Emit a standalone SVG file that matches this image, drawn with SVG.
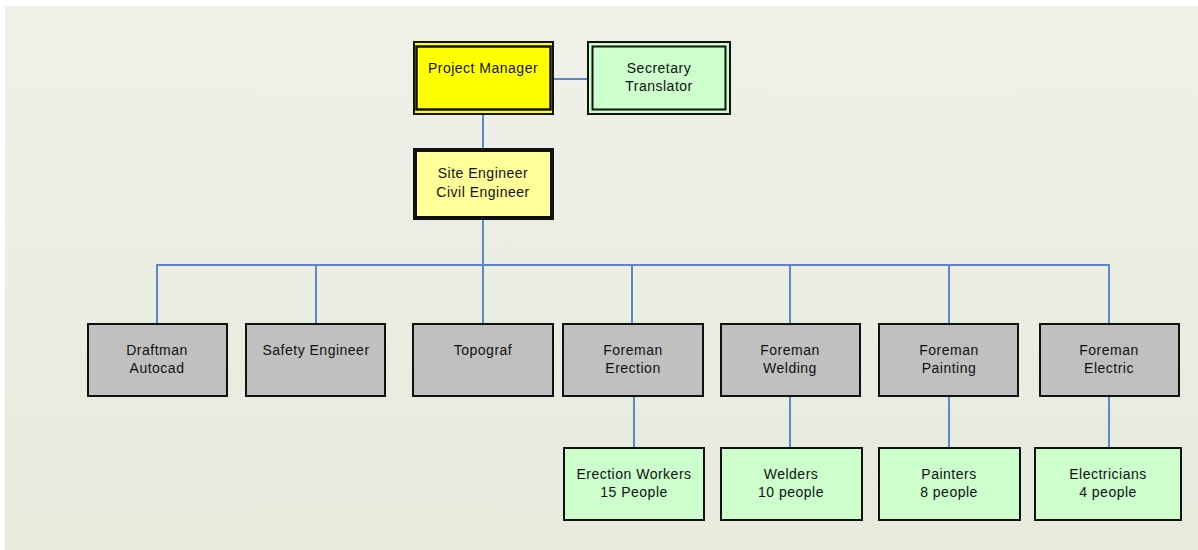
<svg xmlns="http://www.w3.org/2000/svg" width="1198" height="550" viewBox="0 0 1198 550">
<defs>
<linearGradient id="bg" x1="0" y1="0" x2="0" y2="1">
<stop offset="0" stop-color="#f0f0e9"/>
<stop offset="1" stop-color="#e6ebdc"/>
</linearGradient>
<style>
.t{font-family:"Liberation Sans",Arial,sans-serif;font-size:14px;letter-spacing:0.5px;fill:#111;text-anchor:middle}
.gray{fill:#c0c0c0;stroke:#111;stroke-width:2}
.green{fill:#ccffcc;stroke:#111;stroke-width:2}
.c{stroke:#5b87c8;stroke-width:2;fill:none}
</style>
</defs>
<rect x="0" y="0" width="1198" height="550" fill="#ffffff"/>
<rect x="5" y="6" width="1193" height="544" fill="url(#bg)"/>
<g id="connectors">
<line class="c" x1="553" y1="79" x2="587" y2="79"/>
<line class="c" x1="483" y1="115" x2="483" y2="148"/>
<line class="c" x1="483" y1="220" x2="483" y2="323"/>
<line class="c" x1="157" y1="265" x2="1109" y2="265"/>
<line class="c" x1="157" y1="264" x2="157" y2="323"/>
<line class="c" x1="316" y1="265" x2="316" y2="323"/>
<line class="c" x1="632" y1="265" x2="632" y2="323"/>
<line class="c" x1="790" y1="265" x2="790" y2="323"/>
<line class="c" x1="949" y1="265" x2="949" y2="323"/>
<line class="c" x1="1109" y1="264" x2="1109" y2="323"/>
<line class="c" x1="634" y1="397" x2="634" y2="447"/>
<line class="c" x1="790" y1="397" x2="790" y2="447"/>
<line class="c" x1="949" y1="397" x2="949" y2="447"/>
<line class="c" x1="1109" y1="397" x2="1109" y2="447"/>
</g>
<g id="pm">
<rect x="414" y="42" width="139" height="72" fill="#ffff00" stroke="#111" stroke-width="2"/>
<rect x="416.5" y="46.5" width="134" height="63" fill="none" stroke="#111" stroke-width="2.5"/>
<text class="t" x="483" y="73">Project Manager</text>
</g>
<g id="secretary">
<rect x="588" y="42" width="142" height="72" fill="#ccffcc" stroke="#111" stroke-width="2"/>
<rect x="592.5" y="46.5" width="133" height="63" fill="none" stroke="#111" stroke-width="2"/>
<text class="t" x="659" y="73">Secretary</text>
<text class="t" x="659" y="91">Translator</text>
</g>
<g id="site">
<rect x="415" y="150" width="137" height="68" fill="#ffff99" stroke="#111" stroke-width="4"/>
<text class="t" x="483" y="178">Site Engineer</text>
<text class="t" x="483" y="197">Civil Engineer</text>
</g>
<g id="draftman">
<rect class="gray" x="88" y="324" width="139" height="72"/>
<text class="t" x="157" y="355">Draftman</text>
<text class="t" x="157" y="373">Autocad</text>
</g>
<g id="safety">
<rect class="gray" x="246" y="324" width="139" height="72"/>
<text class="t" x="316" y="355">Safety Engineer</text>
</g>
<g id="topograf">
<rect class="gray" x="413" y="324" width="140" height="72"/>
<text class="t" x="483" y="355">Topograf</text>
</g>
<g id="f-erection">
<rect class="gray" x="563" y="324" width="140" height="72"/>
<text class="t" x="633" y="355">Foreman</text>
<text class="t" x="633" y="373">Erection</text>
</g>
<g id="f-welding">
<rect class="gray" x="721" y="324" width="139" height="72"/>
<text class="t" x="790" y="355">Foreman</text>
<text class="t" x="790" y="373">Welding</text>
</g>
<g id="f-painting">
<rect class="gray" x="879" y="324" width="139" height="72"/>
<text class="t" x="949" y="355">Foreman</text>
<text class="t" x="949" y="373">Painting</text>
</g>
<g id="f-electric">
<rect class="gray" x="1040" y="324" width="139" height="72"/>
<text class="t" x="1109" y="355">Foreman</text>
<text class="t" x="1109" y="373">Electric</text>
</g>
<g id="erection-workers">
<rect class="green" x="564" y="448" width="140" height="72"/>
<text class="t" x="634" y="479">Erection Workers</text>
<text class="t" x="634" y="497">15 People</text>
</g>
<g id="welders">
<rect class="green" x="721" y="448" width="141" height="72"/>
<text class="t" x="791" y="479">Welders</text>
<text class="t" x="791" y="497">10 people</text>
</g>
<g id="painters">
<rect class="green" x="879" y="448" width="141" height="72"/>
<text class="t" x="949" y="479">Painters</text>
<text class="t" x="949" y="497">8 people</text>
</g>
<g id="electricians">
<rect class="green" x="1035" y="448" width="146" height="72"/>
<text class="t" x="1108" y="479">Electricians</text>
<text class="t" x="1108" y="497">4 people</text>
</g>
</svg>
